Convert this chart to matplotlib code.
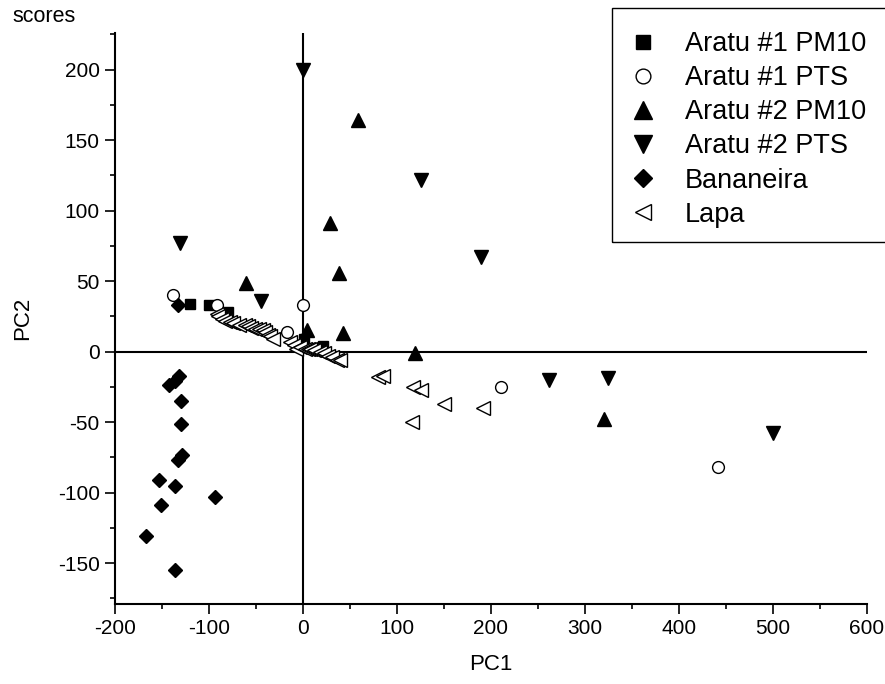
import matplotlib
matplotlib.use('Agg')
import matplotlib.pyplot as plt
from matplotlib.patches import Rectangle
from matplotlib.ticker import MultipleLocator

plt.rcParams['font.family'] = ['Liberation Sans', 'DejaVu Sans']
plt.rcParams['axes.unicode_minus'] = False

# PCA scores
a1_pm10_x = [-120, -100, -80, 1, 21]
a1_pm10_y = [34, 33, 28, 9, 4]

a1_pts_x = [-138, -91, 0, -17, 211, 442]
a1_pts_y = [40, 33, 33, 14, -25, -82]

a2_pm10_x = [58, 29, 38, 43, 119, 4, -61, 320]
a2_pm10_y = [164, 91, 56, 13, -1, 15, 49, -48]

a2_pts_x = [0, 126, 189, -131, -45, 262, 324, 500]
a2_pts_y = [200, 122, 67, 77, 36, -20, -19, -58]

banan_x = [-133, -143, -136, -132, -130, -130, -129, -133, -153, -136, -94, -151, -167, -136]
banan_y = [33, -24, -21, -17, -35, -51, -73, -77, -91, -95, -103, -109, -131, -155]

lapa_x = [-92, -90, -86, -83, -78, -74, -68, -62, -58, -55, -51, -47, -43, -40, -37, -35, -32,
          -14, -10, -7, -3, 2, 5, 7, 12, 18, 22, 27, 31, 36, 39,
          80, 85, 117, 125, 150, 192, 116]
lapa_y = [27, 25, 23, 22, 21, 20, 19, 19, 18, 17, 16, 16, 15, 14, 12, 11, 9,
          7, 5, 2, 3, 2, 2, 2, 1, 0, -1, -3, -4, -6, -6,
          -18, -17, -25, -27, -37, -40, -50]

fig = plt.figure(figsize=(8.85, 6.84), dpi=100)
ax = fig.add_axes([115/885, 1 - 604/684, (867 - 115)/885, (604 - 33)/684])

ax.axhline(0, color='black', lw=1.5, zorder=1)
ax.axvline(0, color='black', lw=1.5, zorder=1)

ax.plot(a1_pm10_x, a1_pm10_y, 's', color='black', ms=7.5, ls='none', label='Aratu #1 PM10')
ax.plot(a1_pts_x, a1_pts_y, 'o', mfc='white', mec='black', mew=1, ms=8.5, ls='none', label='Aratu #1 PTS')
ax.plot(a2_pm10_x, a2_pm10_y, '^', color='black', ms=10, ls='none', label='Aratu #2 PM10')
ax.plot(a2_pts_x, a2_pts_y, 'v', color='black', ms=10, ls='none', label='Aratu #2 PTS')
ax.plot(banan_x, banan_y, 'D', color='black', ms=7, ls='none', label='Bananeira')
ax.plot(lapa_x, lapa_y, '<', mfc='white', mec='black', mew=1, ms=9.5, ls='none', label='Lapa')

ax.set_xlim(-200, 600)
ax.set_ylim(-179, 226)
ax.xaxis.set_major_locator(MultipleLocator(100))
ax.xaxis.set_minor_locator(MultipleLocator(50))
ax.yaxis.set_major_locator(MultipleLocator(50))
ax.yaxis.set_minor_locator(MultipleLocator(25))
ax.tick_params(which='major', direction='out', length=7, width=1.2, labelsize=15, pad=4)
ax.tick_params(which='minor', direction='out', length=3.5, width=1.2)
for s in ['top', 'right']:
    ax.spines[s].set_visible(False)
for s in ['left', 'bottom']:
    ax.spines[s].set_linewidth(1.5)

ax.set_xlabel('PC1', fontsize=16, labelpad=11)
ax.set_ylabel('PC2', fontsize=16, labelpad=18)
fig.text(12/885, 1 - 16/684, 'scores', fontsize=15.5, va='center', ha='left')

handles, labels = ax.get_legend_handles_labels()
fig.legend(handles, labels, loc='upper left', bbox_to_anchor=(627/885, 1 - 31/684),
           frameon=False, fontsize=19.5, handletextpad=0.95, labelspacing=0.3,
           handlelength=1.2, borderpad=0, borderaxespad=0, markerscale=1.25)
fig.patches.append(Rectangle((612/885, 1 - 242/684), 300/885, 234/684,
                             transform=fig.transFigure, fill=False, ec='black', lw=1))

fig.savefig('out.png', dpi=100)
